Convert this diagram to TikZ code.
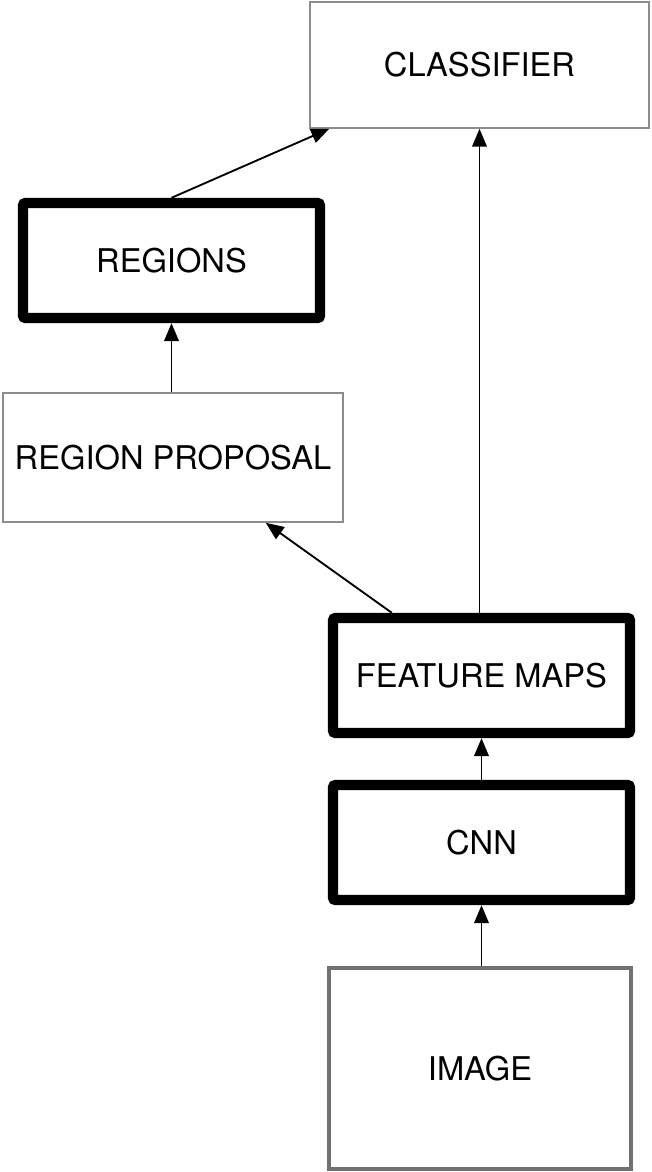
\documentclass[tikz,border=0pt]{standalone}
\usepackage{fontspec}
\setmainfont{TeX Gyre Heros}
\usetikzlibrary{arrows.meta}
\definecolor{thingray}{HTML}{8C8C8C}
\definecolor{imggray}{HTML}{707070}
\begin{document}
\begin{tikzpicture}[x=0.75pt,y=-0.75pt,
  lbl/.style={font=\fontsize{24.5}{29}\selectfont, align=center, inner sep=0pt},
  thinbox/.style={lbl, draw=thingray, line width=1.1pt},
  thickbox/.style={lbl, draw=black, line width=7.8pt, rounded corners=2pt},
  imgbox/.style={lbl, draw=imggray, line width=2.3pt},
  arr/.style={line width=1.4pt, -{Triangle[length=13.5pt,width=11pt]}}]
\useasboundingbox (0,0) rectangle (651,1172);
\node[thinbox, minimum width=254.25pt, minimum height=94.5pt] (cls) at (479.5,65) {CLASSIFIER};
\node[thickbox, minimum width=222.75pt, minimum height=86.25pt] (reg) at (171.5,260.5) {REGIONS};
\node[thinbox, minimum width=255pt, minimum height=96.75pt] (rp) at (173,457.5) {REGION PROPOSAL};
\node[thickbox, minimum width=222.75pt, minimum height=86.25pt] (fm) at (481.5,675.5) {FEATURE MAPS};
\node[thickbox, minimum width=222.75pt, minimum height=86.25pt] (cnn) at (481.5,842.5) {CNN};
\node[imgbox, minimum width=226.5pt, minimum height=150.75pt] (img) at (480,1068.5) {IMAGE};
\draw[arr] (cnn.south |- img.north) -- (cnn.south);
\draw[arr] (cnn.north) -- (fm.south);
\draw[arr] (cls.south |- fm.north) -- (cls.south);
\draw[arr] ([xshift=48pt]fm.north west) -- ([xshift=-58.5pt]rp.south east);
\draw[arr] (reg.south |- rp.north) -- (reg.south);
\draw[arr] (reg.north) -- ([xshift=15pt]cls.south west);
\end{tikzpicture}
\end{document}
